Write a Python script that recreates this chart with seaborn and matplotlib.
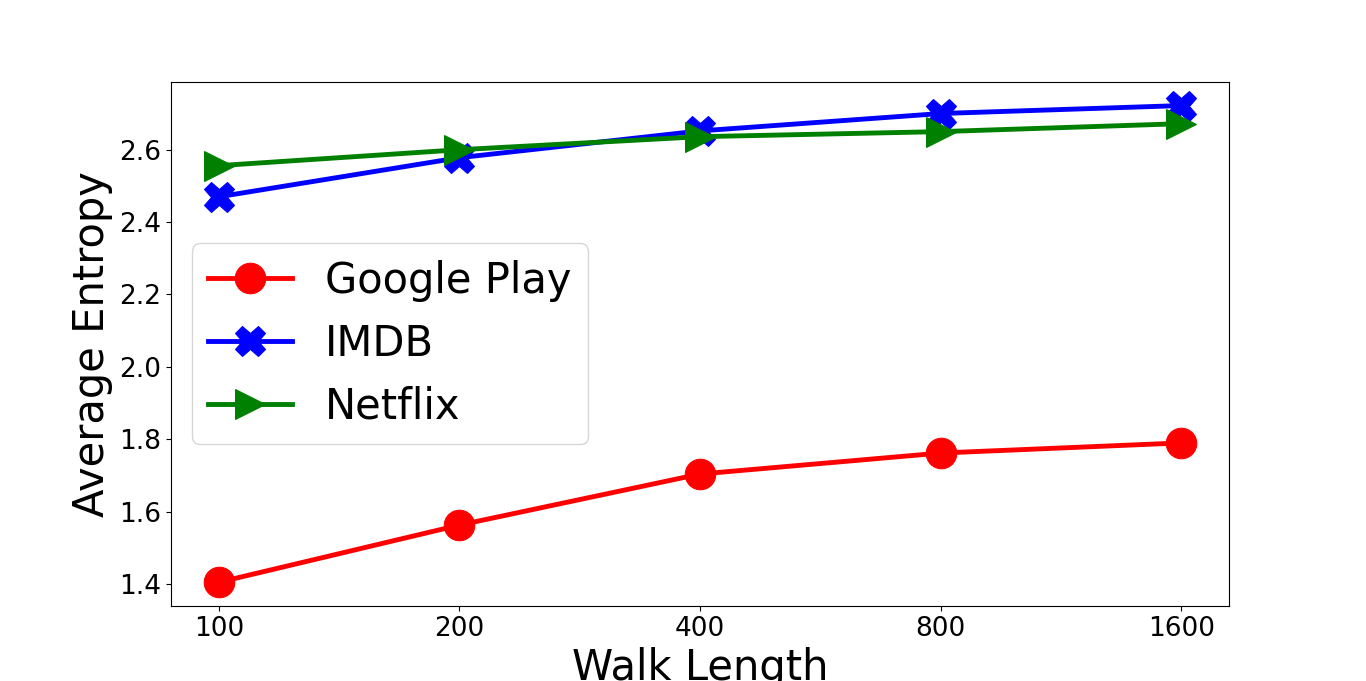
import matplotlib
matplotlib.use("Agg")
import matplotlib.pyplot as plt
import seaborn as sns
import pandas as pd

walk_lengths = ["100", "200", "400", "800", "1600"]
google_play = [1.405, 1.563, 1.704, 1.762, 1.790]
imdb = [2.470, 2.578, 2.652, 2.700, 2.722]
netflix = [2.556, 2.600, 2.636, 2.650, 2.672]

series_names = ["Google Play", "IMDB", "Netflix"]
series_values = [google_play, imdb, netflix]
colors = ["red", "blue", "green"]
markers = ["o", "X", ">"]

rows = []
for name, vals in zip(series_names, series_values):
    for wl, v in zip(walk_lengths, vals):
        rows.append({"Walk Length": wl, "Average Entropy": v, "Dataset": name})
df = pd.DataFrame(rows)

plt.rcParams["font.family"] = ["DejaVu Sans"]
fig, ax = plt.subplots(figsize=(13.66, 6.81), dpi=100)

for name, c, m in zip(series_names, colors, markers):
    sub = df[df["Dataset"] == name]
    sns.lineplot(data=sub, x="Walk Length", y="Average Entropy", ax=ax,
                 color=c, marker=m, markersize=22, linewidth=3.5,
                 markeredgecolor=c, label=name, sort=False)

ax.set_xlabel("Walk Length", fontsize=30)
ax.set_ylabel("Average Entropy", fontsize=30)
ax.tick_params(axis="both", labelsize=19)
for s in ax.spines.values():
    s.set_color("black")
    s.set_visible(True)
ax.grid(False)
ax.legend(loc="center left", fontsize=30)

fig.savefig("out.png", dpi=100)
